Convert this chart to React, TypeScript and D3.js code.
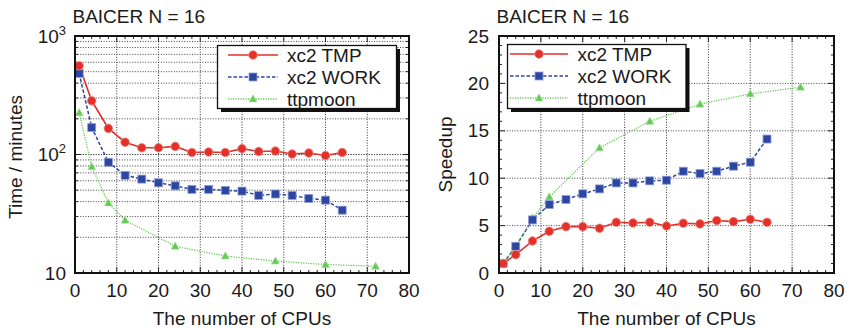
import React from 'react';
import * as d3 from 'd3';

// Data
const cpus = [1, 4, 8, 12, 16, 20, 24, 28, 32, 36, 40, 44, 48, 52, 56, 60, 64];
const cpusMoon = [1, 4, 8, 12, 24, 36, 48, 60, 72];

const timeTmp = [561, 284, 166, 127, 114, 114, 117, 104, 105, 104, 112, 106, 107, 101, 103, 98, 104];
const timeWork = [484, 169, 86, 66.7, 62, 57.7, 54.4, 50.8, 50.8, 49.8, 49.1, 45.2, 46.4, 45.2, 42.6, 41.2, 33.9];
const timeMoon = [225, 79, 39, 27.9, 16.8, 13.9, 12.6, 11.8, 11.4];

const speedTmp = [1, 1.94, 3.38, 4.4, 4.89, 4.89, 4.72, 5.35, 5.28, 5.35, 4.96, 5.25, 5.18, 5.53, 5.42, 5.67, 5.35];
const speedWork = [1, 2.82, 5.6, 7.22, 7.75, 8.35, 8.87, 9.5, 9.5, 9.72, 9.79, 10.74, 10.49, 10.74, 11.27, 11.69, 14.13];
const speedMoon = [1, 2.85, 5.77, 8.03, 13.2, 16.0, 17.8, 18.9, 19.6];

const seriesNames = ['xc2 TMP', 'xc2 WORK', 'ttpmoon'];
const xTicks = [0, 10, 20, 30, 40, 50, 60, 70, 80];
const speedTicks = [0, 5, 10, 15, 20, 25];

const RED = '#e3302a';
const BLUE = '#2c46a2';
const GREEN = '#66c956';
const FONT = '"Liberation Sans", Arial, Helvetica, sans-serif';
const FS = 19;

const W = 849;
const H = 328;

type Pt = [number, number];

function Marker({ kind, x, y }: { kind: number; x: number; y: number }) {
    if (kind === 0) {
        return <circle cx={x} cy={y} r={4.3} fill={RED} stroke="#f08a80" strokeWidth={0.8} />;
    }
    if (kind === 1) {
        return <rect x={x - 4} y={y - 4} width={8} height={8} fill={BLUE} stroke="#8fa0d8" strokeWidth={0.8} />;
    }
    return (
        <path
            d={`M${x},${y - 4.2}L${x + 4},${y + 3}L${x - 4},${y + 3}Z`}
            fill={GREEN}
            stroke="#a8e49e"
            strokeWidth={0.6}
        />
    );
}

const lineStyle = [
    { stroke: RED, width: 1.6, dash: undefined as string | undefined },
    { stroke: BLUE, width: 1.5, dash: '3.5,2' },
    { stroke: GREEN, width: 1.3, dash: '1.2,1.3' },
];

function Legend({ x, y, w, h, lineX0, lineX1, textX }: { x: number; y: number; w: number; h: number; lineX0: number; lineX1: number; textX: number }) {
    const rows = [y + 9.5, y + 31.5, y + 53.5];
    return (
        <g>
            <rect x={x + 3.5} y={y + 3.5} width={w} height={h} fill="#111" />
            <rect x={x} y={y} width={w} height={h} fill="white" stroke="#111" strokeWidth={1.3} />
            {seriesNames.map((name, i) => (
                <g key={name}>
                    <line
                        x1={lineX0}
                        x2={lineX1}
                        y1={rows[i]}
                        y2={rows[i]}
                        stroke={lineStyle[i].stroke}
                        strokeWidth={lineStyle[i].width}
                        strokeDasharray={lineStyle[i].dash}
                    />
                    <Marker kind={i} x={(lineX0 + lineX1) / 2} y={rows[i]} />
                    <text x={textX} y={rows[i] + 7} fontSize={FS} fill="#1a1a1a">
                        {name}
                    </text>
                </g>
            ))}
        </g>
    );
}

function Panel({
    x0,
    x1,
    logScale,
    series,
}: {
    x0: number;
    x1: number;
    logScale: boolean;
    series: { xs: number[]; ys: number[] }[];
}) {
    const y0 = 36;
    const y1 = 273;
    const x = d3.scaleLinear().domain([0, 80]).range([x0, x1]);
    const y: any = logScale
        ? d3.scaleLog().domain([10, 1000]).range([y1, y0])
        : d3.scaleLinear().domain([0, 25]).range([y1, y0]);

    // grid + ticks
    const xMinor = d3.range(0, 81, 2);
    let yMinor: number[];
    let yGrid: number[];
    if (logScale) {
        yMinor = [];
        for (const dec of [10, 100]) for (let k = 1; k <= 10; k++) yMinor.push(dec * k);
        yGrid = yMinor.filter((v) => v > 10 && v < 1000);
    } else {
        yMinor = d3.range(0, 26, 1);
        yGrid = [5, 10, 15, 20];
    }
    const yMajor = logScale ? [10, 100, 1000] : speedTicks;

    const line = d3
        .line<Pt>()
        .x((d) => x(d[0]))
        .y((d) => y(d[1]));

    return (
        <g>
            {/* grid */}
            {xTicks.slice(1, -1).map((t) => (
                <line key={'gx' + t} x1={x(t)} x2={x(t)} y1={y0} y2={y1} stroke="#333" strokeWidth={1} strokeDasharray="1,1.6" />
            ))}
            {yGrid.map((t) => (
                <line key={'gy' + t} x1={x0} x2={x1} y1={y(t)} y2={y(t)} stroke="#444" strokeWidth={1} strokeDasharray="1,1.6" />
            ))}
            {/* minor ticks */}
            {xMinor.map((t) => (
                <g key={'tx' + t}>
                    <line x1={x(t)} x2={x(t)} y1={y1} y2={y1 - (t % 10 === 0 ? 6 : 3)} stroke="#222" strokeWidth={1} />
                    <line x1={x(t)} x2={x(t)} y1={y0} y2={y0 + (t % 10 === 0 ? 6 : 3)} stroke="#222" strokeWidth={1} />
                </g>
            ))}
            {yMinor.map((t) => {
                const major = yMajor.includes(t);
                return (
                    <g key={'ty' + t}>
                        <line x1={x0} x2={x0 + (major ? 6 : 3)} y1={y(t)} y2={y(t)} stroke="#222" strokeWidth={1} />
                        <line x1={x1} x2={x1 - (major ? 6 : 3)} y1={y(t)} y2={y(t)} stroke="#222" strokeWidth={1} />
                    </g>
                );
            })}
            {/* series */}
            {series.map((s, i) => {
                const pts: Pt[] = s.xs.map((v, k) => [v, s.ys[k]]);
                return (
                    <g key={'s' + i}>
                        <path
                            d={line(pts) ?? ''}
                            fill="none"
                            stroke={lineStyle[i].stroke}
                            strokeWidth={lineStyle[i].width}
                            strokeDasharray={lineStyle[i].dash}
                        />
                    </g>
                );
            })}
            {series
                .map((s, i) => ({ s, i }))
                .reverse()
                .map(({ s, i }) =>
                    s.xs.map((v, k) => <Marker key={`m${i}-${k}`} kind={i} x={x(v)} y={y(s.ys[k])} />)
                )}
            {/* frame */}
            <rect x={x0} y={y0} width={x1 - x0} height={y1 - y0} fill="none" stroke="#111" strokeWidth={2} />
            {/* x tick labels */}
            {xTicks.map((t) => (
                <text key={'lx' + t} x={x(t)} y={297} textAnchor="middle" fontSize={FS} fill="#1a1a1a">
                    {t}
                </text>
            ))}
            {/* y tick labels */}
            {logScale
                ? [
                      <text key="l3" x={66} y={y(1000) + 6.5} textAnchor="end" fontSize={FS} fill="#1a1a1a">
                          10
                          <tspan dy={-8} fontSize={13}>3</tspan>
                      </text>,
                      <text key="l2" x={66} y={y(100) + 6.5} textAnchor="end" fontSize={FS} fill="#1a1a1a">
                          10
                          <tspan dy={-8} fontSize={13}>2</tspan>
                      </text>,
                      <text key="l1" x={66} y={y(10) + 6.5} textAnchor="end" fontSize={FS} fill="#1a1a1a">
                          10
                      </text>,
                  ]
                : speedTicks.map((t) => (
                      <text key={'ly' + t} x={x0 - 10} y={y(t) + 6.5} textAnchor="end" fontSize={FS} fill="#1a1a1a">
                          {t}
                      </text>
                  ))}
            {/* axis titles */}
            <text x={(x0 + x1) / 2} y={325} textAnchor="middle" fontSize={FS} fill="#1a1a1a">
                The number of CPUs
            </text>
            <text x={x0 - 2.5} y={22.5} fontSize={FS} fill="#1a1a1a">
                BAICER N = 16
            </text>
        </g>
    );
}

export default function App() {
    return (
        <svg
            width={W}
            height={H}
            viewBox={`0 0 ${W} ${H}`}
            style={{ position: 'absolute', left: 0, top: 0, background: 'white', fontFamily: FONT }}
        >
            <Panel
                x0={75}
                x1={409}
                logScale
                series={[
                    { xs: cpus, ys: timeTmp },
                    { xs: cpus, ys: timeWork },
                    { xs: cpusMoon, ys: timeMoon },
                ]}
            />
            <Panel
                x0={499}
                x1={834}
                logScale={false}
                series={[
                    { xs: cpus, ys: speedTmp },
                    { xs: cpus, ys: speedWork },
                    { xs: cpusMoon, ys: speedMoon },
                ]}
            />
            <Legend x={217.5} y={45.5} w={179} h={63} lineX0={228} lineX1={278} textX={287} />
            <Legend x={507.5} y={44.5} w={178.5} h={64} lineX0={510} lineX1={568} textX={577.5} />
            <text transform="translate(22,157) rotate(-90)" textAnchor="middle" fontSize={FS} fill="#1a1a1a">
                Time / minutes
            </text>
            <text transform="translate(452,154.5) rotate(-90)" textAnchor="middle" fontSize={FS} fill="#1a1a1a">
                Speedup
            </text>
        </svg>
    );
}
